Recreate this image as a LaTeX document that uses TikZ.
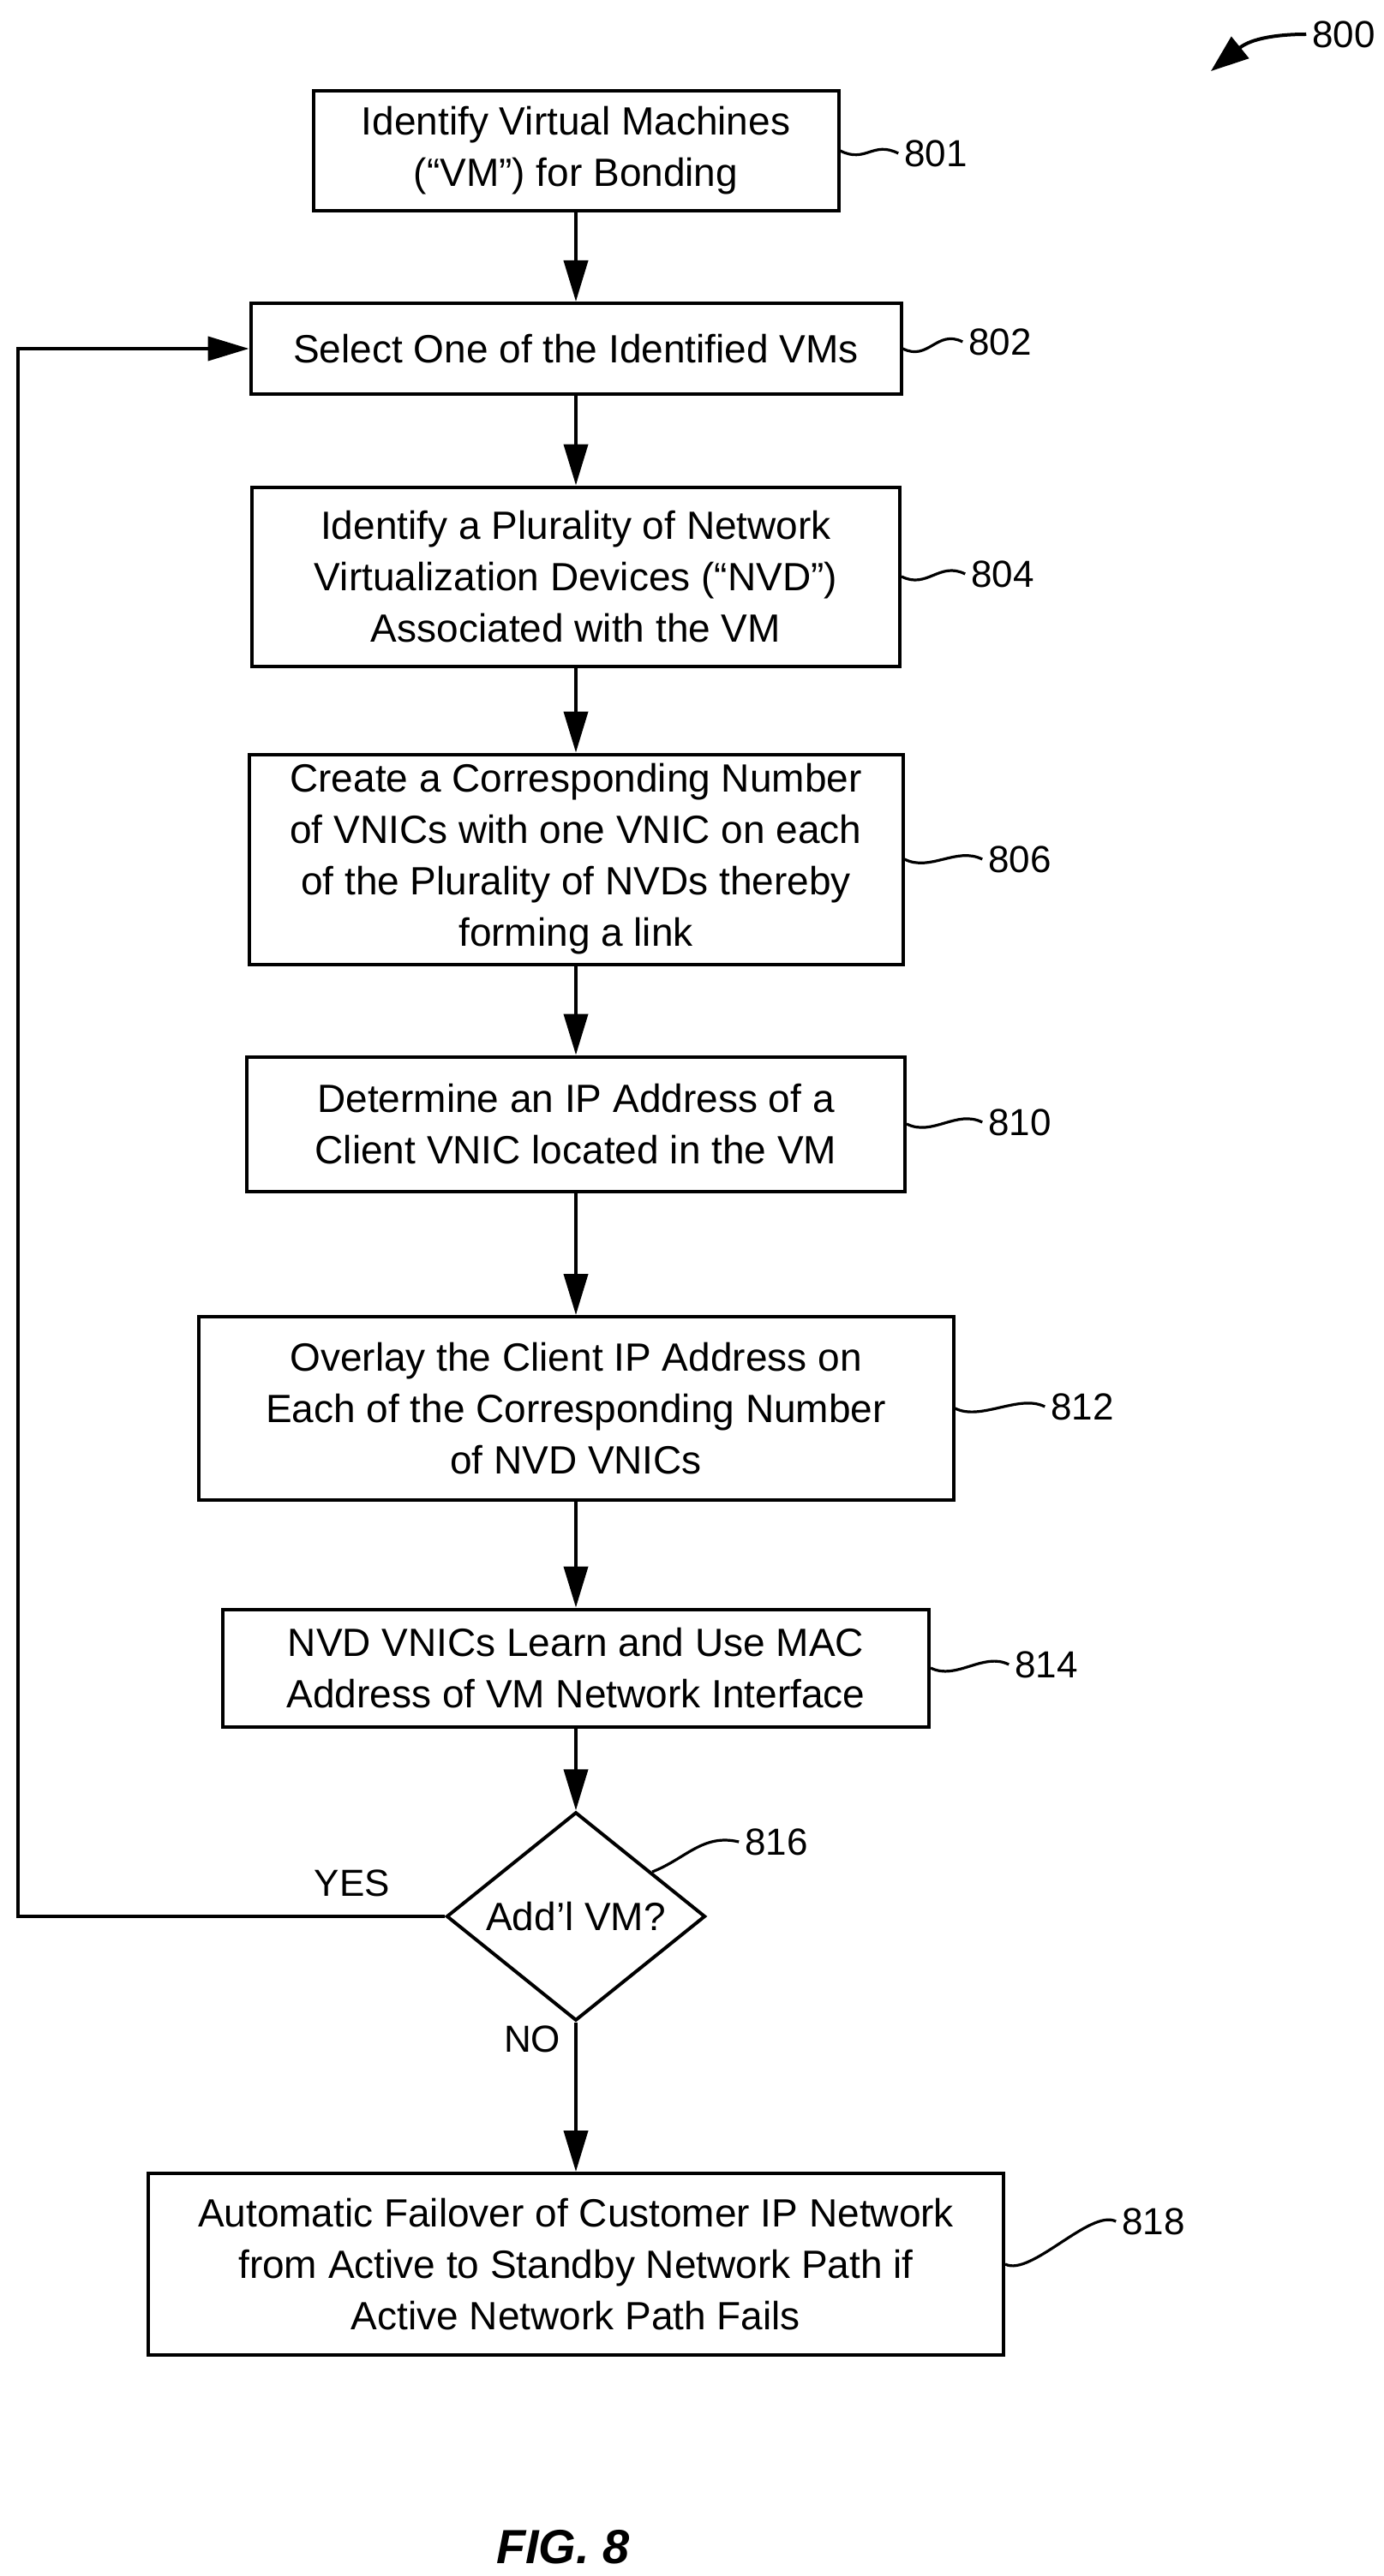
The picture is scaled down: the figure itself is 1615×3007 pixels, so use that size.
\documentclass[tikz,border=0pt]{standalone}
\usepackage{fontspec}
\setmainfont{Liberation Sans}
\usetikzlibrary{arrows.meta,shapes.geometric,calc}
\begin{document}
\begin{tikzpicture}[x=0.5pt,y=-0.5pt,
  box/.style={draw,line width=2pt,align=center,inner sep=0pt,font=\fontsize{23}{30}\selectfont},
  lbl/.style={font=\fontsize{22}{26}\selectfont},
  arr/.style={line width=2pt,-{Triangle[length=24pt,width=14pt]}},
  sq/.style={line width=1.6pt}]
\useasboundingbox (0,0) rectangle (1615,3007);
\node[box,minimum width=306.5pt,minimum height=70pt] (b801) at (672,176) {Identify Virtual Machines\\(“VM”) for Bonding};
\node[box,minimum width=379.5pt,minimum height=53pt] (b802) at (672,407) {Select One of the Identified VMs};
\node[box,minimum width=378pt,minimum height=104.5pt] (b804) at (672,673) {Identify a Plurality of Network\\Virtualization Devices (“NVD”)\\Associated with the VM};
\node[box,minimum width=381.5pt,minimum height=122.5pt] (b806) at (672,1003) {Create a Corresponding Number\\of VNICs with one VNIC on each\\of the Plurality of NVDs thereby\\forming a link};
\node[box,minimum width=384pt,minimum height=78.5pt] (b810) at (672,1312) {Determine an IP Address of a\\Client VNIC located in the VM};
\node[box,minimum width=440.5pt,minimum height=107pt] (b812) at (672,1644) {Overlay the Client IP Address on\\Each of the Corresponding Number\\of NVD VNICs};
\node[box,minimum width=412pt,minimum height=68.5pt] (b814) at (672,1947) {NVD VNICs Learn and Use MAC\\Address of VM Network Interface};
\node[box,diamond,minimum width=151pt,minimum height=112pt] (d816) at (672,2237) {Add’l VM?};
\node[box,minimum width=499pt,minimum height=106pt] (b818) at (672,2643) {Automatic Failover of Customer IP Network\\from Active to Standby Network Path if\\Active Network Path Fails};

\draw[arr] (b801) -- (b802);
\draw[arr] (b802) -- (b804);
\draw[arr] (b804) -- (b806);
\draw[arr] (b806) -- (b810);
\draw[arr] (b810) -- (b812);
\draw[arr] (b812) -- (b814);
\draw[arr] (b814) -- (d816);
\draw[arr] (d816) -- (b818);
\coordinate (c1) at (21,2237);
\coordinate (c2) at (21,407);
\draw[arr] (d816.west) -- (c1) -- (c2) -- (b802.west);
\node[lbl] (yes) at (411,2198) {YES};
\node[lbl] (no) at (621,2380) {NO};

\node[lbl] (l801) at (1092,179) {801};
\node[lbl] (l802) at (1167,399) {802};
\node[lbl] (l804) at (1170,670) {804};
\node[lbl] (l806) at (1190,1003) {806};
\node[lbl] (l810) at (1190,1310) {810};
\node[lbl] (l812) at (1263,1642) {812};
\node[lbl] (l814) at (1221,1943) {814};
\node[lbl] (l816) at (906,2150) {816};
\node[lbl] (l818) at (1346,2593) {818};
\node[lbl] (l800) at (1568,40) {800};
\foreach \b/\l in {b801/l801,b802/l802,b804/l804,b806/l806,b810/l810,b812/l812,b814/l814,b818/l818}
  \draw[sq] (\b.east) .. controls ($(\b.east)+(30,15)$) and ($(\l.west)+(-30,-15)$) .. (\l.west);
\coordinate (d816e) at (761,2185);
\draw[sq] (d816e) .. controls (800,2170) and (820,2140) .. (l816.west);
\coordinate (a800) at (1413,83);
\draw[line width=2pt,-{Triangle[length=22pt,width=16pt]}] (l800.west) .. controls (1490,40) and (1460,45) .. (a800);
\node[font=\fontsize{28}{32}\selectfont\bfseries\itshape] (fig) at (657,2973) {FIG. 8};
\end{tikzpicture}
\end{document}
